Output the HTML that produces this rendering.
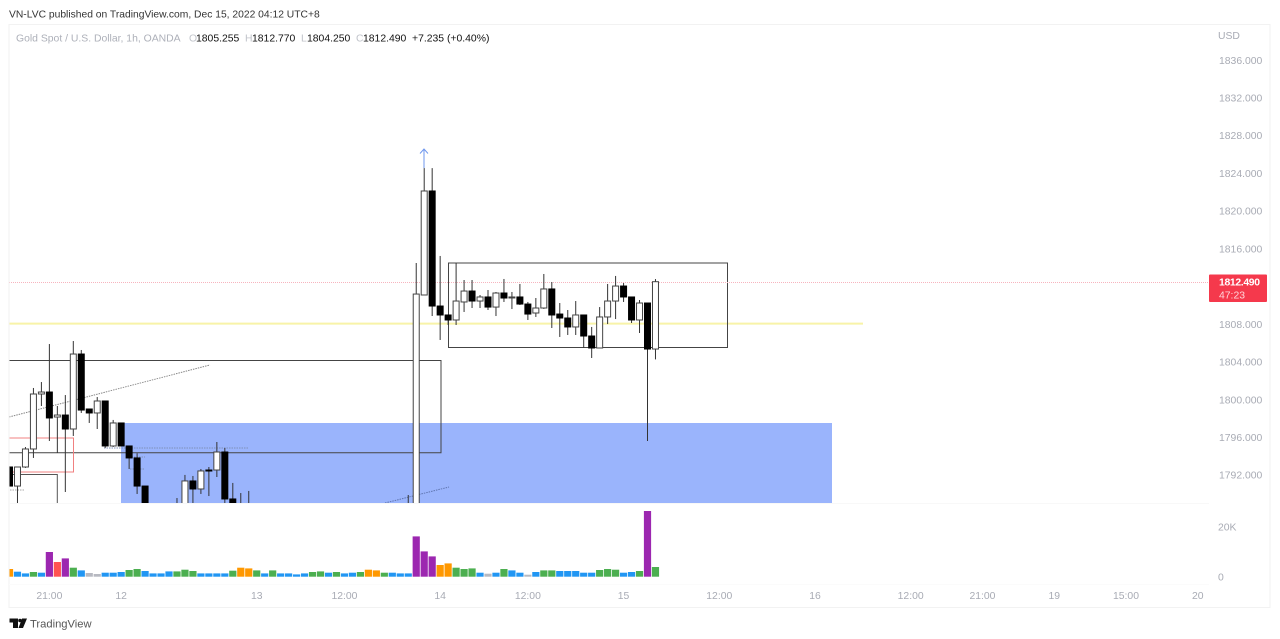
<!DOCTYPE html>
<html lang="en">
<head>
<meta charset="utf-8">
<title>Gold Spot / U.S. Dollar chart</title>
<style>
html,body{margin:0;padding:0;background:#fff;width:1280px;height:639px;overflow:hidden}
svg{display:block;font-family:"Liberation Sans",sans-serif;filter:blur(0.35px)}
</style>
</head>
<body>
<svg id="chart" xmlns="http://www.w3.org/2000/svg" width="1280" height="639" viewBox="0 0 1280 639">
  <defs>
    <clipPath id="price-clip"><rect x="9.5" y="25" width="1200" height="478"/></clipPath>
    <clipPath id="volume-clip"><rect x="9.5" y="504" width="1200" height="80"/></clipPath>
  </defs>
  <text x="9" y="17.5" font-size="10.3" fill="#333">VN-LVC published on TradingView.com, Dec 15, 2022 04:12 UTC+8</text>
  <rect x="9" y="24.5" width="1261" height="583" fill="none" stroke="#f2f2f2"/>
  <line x1="9" x2="1209" y1="503.5" y2="503.5" stroke="#f8f8f8"/>
  <line x1="9" x2="1209" y1="584.5" y2="584.5" stroke="#fbfbfb"/>
  <text x="16" y="41.5" font-size="10.4" fill="#adb0b9">Gold Spot / U.S. Dollar, 1h, OANDA</text>
  <text y="41.5" font-size="10.4" fill="#111">
    <tspan x="189" fill="#c0c3ca">O</tspan><tspan x="196">1805.255</tspan>
    <tspan x="245" fill="#c0c3ca">H</tspan><tspan x="252">1812.770</tspan>
    <tspan x="301" fill="#c0c3ca">L</tspan><tspan x="307">1804.250</tspan>
    <tspan x="356" fill="#c0c3ca">C</tspan><tspan x="363">1812.490</tspan>
    <tspan x="412">+7.235 (+0.40%)</tspan>
  </text>
  <text x="1218" y="39" font-size="10.4" fill="#a8abb4">USD</text>

  <g id="drawings-under" clip-path="url(#price-clip)">
    <rect x="121" y="423" width="711" height="81" fill="#9ab4fc"/>
    <polyline points="9,360.5 441,360.5 441,452.8 9,452.8" fill="none" stroke="#444" stroke-width="1"/>
    <polyline points="9,438 73.5,438 73.5,472 9,472" fill="none" stroke="#f08080" stroke-width="1"/>
    <polyline points="9,474.5 57.3,474.5 57.3,504" fill="none" stroke="#555" stroke-width="1"/>
    <line x1="9" y1="417" x2="210" y2="365" stroke="#888" stroke-dasharray="1.5 1"/>
    <line x1="385" y1="503" x2="449" y2="487" stroke="#5f75b0" stroke-dasharray="1.5 1"/>
    <line x1="104" y1="448" x2="248" y2="448" stroke="#7f8fb8" stroke-dasharray="1.5 1"/>
    <line x1="129" y1="457" x2="145" y2="457" stroke="#7f8fb8" stroke-dasharray="1.5 1"/>
    <line x1="130" y1="469" x2="145" y2="469" stroke="#7f8fb8" stroke-dasharray="1.5 1"/>
    <line x1="10" y1="490" x2="25" y2="490" stroke="#aaa" stroke-dasharray="1.5 1"/>
    <line x1="9" y1="323.6" x2="863" y2="323.6" stroke="#f8f3a8" stroke-width="2"/>
    <rect x="448.5" y="263" width="279" height="84.5" fill="none" stroke="#444" stroke-width="1"/>
    <line x1="9" y1="282.5" x2="1209" y2="282.5" stroke="#f7b4be" stroke-width="1" stroke-dasharray="1 1"/>
  </g>
  <g id="candles" clip-path="url(#price-clip)"></g>
  <g fill="none" stroke="#6f97ee" stroke-width="1">
    <path d="M424 168 V149 M420 153.5 L424 149 L428 153.5"/>
  </g>
  <g id="volumes" clip-path="url(#volume-clip)"></g>
  <g id="price-axis"></g>
  <g id="volume-axis"></g>
  <g id="time-axis"></g>

  <g>
    <rect x="1209" y="274.5" width="58" height="27.5" rx="1" fill="#f5394c"/>
    <text x="1219" y="285.5" font-size="10.4" font-weight="bold" fill="#fff" textLength="41">1812.490</text>
    <text x="1219" y="298.5" font-size="10.4" fill="#ffd6da">47:23</text>
  </g>

  <g>
    <path d="M9.5 618.5 H18 V628 H13 V622.5 H9.5 Z M22 618.5 H27 L23 628 H18.5 Z" fill="#111"/>
    <circle cx="20" cy="620.5" r="1.8" fill="#111"/>
    <text x="30" y="627.5" font-size="11.2" fill="#555">TradingView</text>
  </g>
</svg>
<script>
// Hourly OHLC series (candles past the pane floor are estimates)
const opens = [1792.84,1790.82,1792.84,1794.75,1800.58,1800.79,1798.14,1798.35,1796.87,1804.82,1798.99,1798.57,1799.84,1795.07,1797.51,1795.07,1793.80,1790.82,1788.6,1787.4,1788.0,1787.8,1788.6,1791.36,1790.51,1792.52,1792.52,1794.43,1789.45,1788.5,1788.0,1787.5,1787.1,1787.6,1787.2,1786.8,1787.3,1787.7,1787.4,1786.9,1787.2,1787.6,1788.0,1787.5,1787.1,1787.4,1787.8,1787.3,1787.6,1787.2,1787.8,1788.5,1811.08,1822.11,1809.91,1808.96,1808.43,1810.34,1811.50,1810.44,1810.87,1809.80,1811.29,1810.87,1810.87,1810.12,1809.17,1809.70,1811.72,1809.06,1808.64,1807.69,1808.96,1806.73,1805.46,1808.75,1810.44,1812.03,1810.87,1808.43,1810.23,1805.35];
const highs = [1792.90,1792.84,1794.96,1801.22,1801.85,1805.88,1799.31,1800.47,1806.20,1805.25,1798.99,1800.26,1799.84,1797.83,1797.51,1795.07,1794.30,1790.82,1788.8,1788.4,1788.7,1789.55,1792.00,1791.89,1792.63,1792.84,1795.49,1794.86,1791.15,1790.08,1790.30,1788.0,1787.8,1788.1,1787.9,1787.5,1788.0,1788.3,1788.0,1787.6,1787.9,1788.2,1788.6,1788.1,1787.8,1788.0,1788.4,1788.0,1788.2,1788.0,1789.87,1814.47,1824.54,1824.54,1815.22,1808.96,1814.47,1812.67,1812.67,1811.08,1811.61,1811.40,1812.78,1811.40,1812.25,1810.34,1810.76,1813.31,1812.46,1810.23,1809.49,1810.44,1808.96,1807.69,1809.80,1812.25,1813.10,1812.35,1810.87,1810.55,1810.23,1812.77];
const lows = [1790.82,1787.5,1792.74,1793.80,1799.31,1795.60,1794.33,1790.19,1796.13,1798.57,1797.51,1796.87,1794.86,1794.96,1795.07,1792.63,1789.98,1788.0,1787.2,1786.8,1787.3,1787.2,1788.2,1788.3,1789.98,1789.76,1791.78,1788.6,1788.0,1787.3,1787.0,1786.6,1786.5,1786.9,1786.4,1786.2,1786.7,1787.0,1786.6,1786.3,1786.6,1787.0,1787.3,1786.8,1786.5,1786.8,1787.1,1786.7,1786.9,1786.6,1787.0,1787.9,1811.08,1808.85,1806.31,1807.90,1807.90,1809.28,1809.70,1809.70,1809.49,1808.85,1810.34,1809.59,1810.02,1808.43,1808.75,1809.60,1807.58,1806.63,1806.84,1806.84,1805.46,1804.40,1805.46,1808.00,1808.53,1810.34,1808.11,1807.05,1795.60,1804.25];
const closes = [1790.82,1792.84,1794.75,1800.58,1800.79,1798.04,1798.35,1796.87,1804.82,1798.88,1798.57,1799.84,1795.07,1797.51,1795.07,1793.80,1790.82,1788.6,1787.4,1788.0,1788.3,1788.6,1791.36,1790.51,1792.42,1792.42,1794.43,1789.45,1788.8,1787.8,1787.5,1787.1,1787.6,1787.2,1786.8,1787.3,1787.7,1787.4,1786.9,1787.2,1787.6,1788.0,1787.5,1787.1,1787.4,1787.8,1787.3,1787.6,1787.2,1787.8,1788.5,1811.18,1822.11,1809.91,1808.96,1808.43,1810.44,1811.50,1810.44,1810.87,1809.80,1811.29,1810.76,1810.87,1810.12,1809.06,1809.70,1811.72,1808.96,1808.64,1807.69,1808.96,1806.73,1805.46,1808.75,1810.44,1812.03,1810.87,1808.43,1810.23,1805.35,1812.49];
// Volume per bar and its colour class
const volumes = [3080,2000,1320,1880,1600,9880,5880,7320,3600,2520,1480,1080,1600,1600,1880,2680,3080,2280,1320,1320,2120,2120,2800,2280,1320,1320,1320,1320,2400,3600,3320,2520,1320,2520,1320,1320,920,1320,1880,2120,1600,1880,1320,1600,1880,2800,2520,1600,1600,1320,1320,16120,10120,8120,4680,5320,3600,3080,3320,1600,1200,1600,3080,2520,1600,800,1880,2520,2520,2280,2280,2280,1600,1600,2680,3080,2800,1600,1880,2280,26280,3880];
const volumeKinds = "obbgbprpgbxxbbbggbbbbgggbbbbgoogbgbbbbggbgbbgoogbbbpppoogggbxbgbbxbggbbbbbgggbbgpg".split("");
const volumeColors = {o:"#ff9800",b:"#2196f3",g:"#4caf50",p:"#9c27b0",r:"#ff5252",x:"#b7b9c1"};
// Axis labels
const priceTicks = [1836,1832,1828,1824,1820,1816,1808,1804,1800,1796,1792];
const volumeTicks = [20000,0];
const volumeTickLabels = ["20K","0"];
const timeTickBars = [5,14,31,42,54,65,77,89,101,113,122,131,140,149];
const timeTickLabels = ["21:00","12","13","12:00","14","12:00","15","12:00","16","12:00","21:00","19","15:00","20"];

const NS = "http://www.w3.org/2000/svg";
function xAt(i){ return 9.5 + 7.975 * i; }
function yPrice(p){ return 60 + (1836 - p) * 9.43; }
function yVolume(v){ return 576.7 - v / 400; }
function make(tag, attrs, parent){
  const el = document.createElementNS(NS, tag);
  for (const k in attrs) el.setAttribute(k, attrs[k]);
  parent.appendChild(el);
  return el;
}

const candleLayer = document.getElementById("candles");
opens.forEach(function(o, i){
  const c = closes[i];
  const x = xAt(i);
  const up = c >= o;
  const group = make("g", {}, candleLayer);
  
  
  make("line", {x1:x, x2:x, y1:yPrice(highs[i]), y2:yPrice(lows[i]), stroke:"#333", "stroke-width":1}, group);
  const top = yPrice(Math.max(o, c));
  const h = Math.max(Math.abs(yPrice(o) - yPrice(c)), 1);
  make("rect", {x:x - 3, y:top, width:6, height:h, fill:up ? "#fff" : "#000", stroke:up ? "#444" : "#000", "stroke-width":1}, group);
});

const volumeLayer = document.getElementById("volumes");
volumes.forEach(function(v, i){
  const top = yVolume(v);
  const bar = make("rect", {x:xAt(i) - 3.6, y:top, width:7.2, height:yVolume(0) - top, fill:volumeColors[volumeKinds[i]]}, volumeLayer);
  
  
});

const priceAxis = document.getElementById("price-axis");
priceTicks.forEach(function(p){
  const t = make("text", {x:1219, y:yPrice(p) + 3.8, "font-size":10.4, fill:"#a8abb4"}, priceAxis);
  
  
  t.textContent = p.toFixed(3);
});

const volumeAxis = document.getElementById("volume-axis");
volumeTicks.forEach(function(v, i){
  const t = make("text", {x:1218, y:yVolume(v) + 3.8, "font-size":10.4, fill:"#a8abb4"}, volumeAxis);
  
  
  t.textContent = volumeTickLabels[i];
});

const timeAxis = document.getElementById("time-axis");
timeTickBars.forEach(function(b, i){
  const t = make("text", {x:xAt(b), y:599, "font-size":10.4, fill:"#a8abb4", "text-anchor":"middle"}, timeAxis);
  
  
  t.textContent = timeTickLabels[i];
});
</script>
</body>
</html>
